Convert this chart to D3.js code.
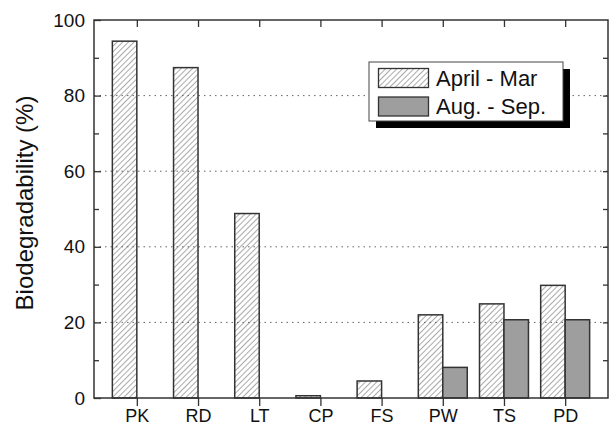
<!DOCTYPE html>
<html>
<head>
<meta charset="utf-8">
<script src="https://cdn.jsdelivr.net/npm/d3@7"></script>
<style>
  html, body { margin: 0; padding: 0; background: #fff; }
  svg { display: block; font-family: "Liberation Sans", Arial, Helvetica, sans-serif; }
</style>
</head>
<body>
<svg id="chart" width="615" height="425"></svg>
<script>
// Sampling sites
const categories = ["PK", "RD", "LT", "CP", "FS", "PW", "TS", "PD"];
// Biodegradability (%) per sampling period; null = not measured
const aprilMar = [94.4, 87.4, 48.8, 0.6, 4.5, 22.0, 24.9, 29.8];
const augSep   = [null, null, null, null, null, 8.1, 20.7, 20.7];
const seriesNames = ["April - Mar", "Aug. - Sep."];
const yMajorTicks = [0, 20, 40, 60, 80, 100];
const yMinorTicks = [10, 30, 50, 70, 90];
const gridTicks = [20, 40, 60, 80];

const svg = d3.select("#chart");
const plot = { left: 94, right: 608, top: 20, bottom: 398 };

const x = d3.scalePoint().domain(categories)
  .range([plot.left, plot.right]).padding(0.7);
const barW = x.step() * 0.4;
const y = d3.scaleLinear().domain([0, 100]).range([plot.bottom, plot.top]);

// hatch pattern for the first series
const defs = svg.append("defs");
const pat = defs.append("pattern")
  .attr("id", "hatch")
  .attr("patternUnits", "userSpaceOnUse")
  .attr("width", 4).attr("height", 4)
  .attr("patternTransform", "rotate(45)");
pat.append("line")
  .attr("x1", 0).attr("y1", 0).attr("x2", 0).attr("y2", 4)
  .attr("stroke", "#555").attr("stroke-width", 1);

// dotted horizontal grid
svg.append("g").selectAll("line").data(gridTicks).join("line")
  .attr("x1", plot.left).attr("x2", plot.right)
  .attr("y1", d => y(d)).attr("y2", d => y(d))
  .attr("stroke", "#666").attr("stroke-width", 1)
  .attr("stroke-dasharray", "1.5,4");

const axisColor = "#333";

// bars: hatched (left of tick), grey (right of tick)
const bars = svg.append("g");
bars.selectAll("rect.s1").data(categories.map((c, i) => ({ c, v: aprilMar[i] })))
  .join("rect").attr("class", "s1")
  .attr("x", d => x(d.c) - barW)
  .attr("y", d => y(d.v))
  .attr("width", barW)
  .attr("height", d => y(0) - y(d.v))
  .attr("fill", "url(#hatch)")
  .attr("stroke", axisColor).attr("stroke-width", 1.5);

bars.selectAll("rect.s2")
  .data(categories.map((c, i) => ({ c, v: augSep[i] })).filter(d => d.v != null))
  .join("rect").attr("class", "s2")
  .attr("x", d => x(d.c))
  .attr("y", d => y(d.v))
  .attr("width", barW)
  .attr("height", d => y(0) - y(d.v))
  .attr("fill", "#9e9e9e")
  .attr("stroke", axisColor).attr("stroke-width", 1.5);

// axes
function styleAxis(g) {
  g.select(".domain").remove();
  g.selectAll("line").attr("stroke", axisColor).attr("stroke-width", 1.3);
  g.selectAll("text").attr("fill", "#111");
}

// left axis: labelled majors, inward
const leftAxis = svg.append("g").attr("transform", `translate(${plot.left},0)`)
  .call(d3.axisLeft(y).tickValues(yMajorTicks).tickSize(-7).tickPadding(16)
    .tickFormat(d3.format("d")));
leftAxis.selectAll("text").attr("font-size", 19).attr("x", -9);
styleAxis(leftAxis);
const leftMinor = svg.append("g").attr("transform", `translate(${plot.left},0)`)
  .call(d3.axisLeft(y).tickValues(yMinorTicks).tickSize(-5).tickFormat(""));
styleAxis(leftMinor);

// right axis: inward ticks every 10
const rightAxis = svg.append("g").attr("transform", `translate(${plot.right},0)`)
  .call(d3.axisRight(y).tickValues(d3.range(10, 100, 10)).tickSize(-5).tickFormat(""));
styleAxis(rightAxis);

// bottom axis: outward ticks with labels
const bottomAxis = svg.append("g").attr("transform", `translate(0,${plot.bottom})`)
  .call(d3.axisBottom(x).tickSize(8).tickPadding(3.5));
bottomAxis.selectAll("text").attr("font-size", 18);
styleAxis(bottomAxis);

// top axis: inward ticks
const topAxis = svg.append("g").attr("transform", `translate(0,${plot.top})`)
  .call(d3.axisTop(x).tickSize(-7).tickFormat(""));
styleAxis(topAxis);

// frame
svg.append("rect")
  .attr("x", plot.left).attr("y", plot.top)
  .attr("width", plot.right - plot.left).attr("height", plot.bottom - plot.top)
  .attr("fill", "none").attr("stroke", axisColor).attr("stroke-width", 1.5);

// y-axis title
svg.append("text")
  .attr("transform", `translate(33,${(plot.top + plot.bottom) / 2 - 6}) rotate(-90)`)
  .attr("text-anchor", "middle")
  .attr("font-size", 24)
  .attr("fill", "#111")
  .text("Biodegradability (%)");

// legend with drop shadow
const lg = svg.append("g").attr("transform", "translate(369,62)");
const lgW = 194, lgH = 59;
lg.append("rect").attr("x", 7).attr("y", 7).attr("width", lgW).attr("height", lgH)
  .attr("fill", "#000");
lg.append("rect").attr("x", 0).attr("y", 0).attr("width", lgW).attr("height", lgH)
  .attr("fill", "#fff").attr("stroke", "#444").attr("stroke-width", 1);
const fills = ["url(#hatch)", "#9e9e9e"];
seriesNames.forEach((name, i) => {
  lg.append("rect")
    .attr("x", 9.5).attr("y", 6.5 + i * 28.5)
    .attr("width", 50).attr("height", 19)
    .attr("fill", fills[i]).attr("stroke", axisColor).attr("stroke-width", 1.3);
  lg.append("text")
    .attr("x", 67).attr("y", 23.5 + i * 28.5)
    .attr("font-size", 22).attr("fill", "#111")
    .text(name);
});
</script>
</body>
</html>
